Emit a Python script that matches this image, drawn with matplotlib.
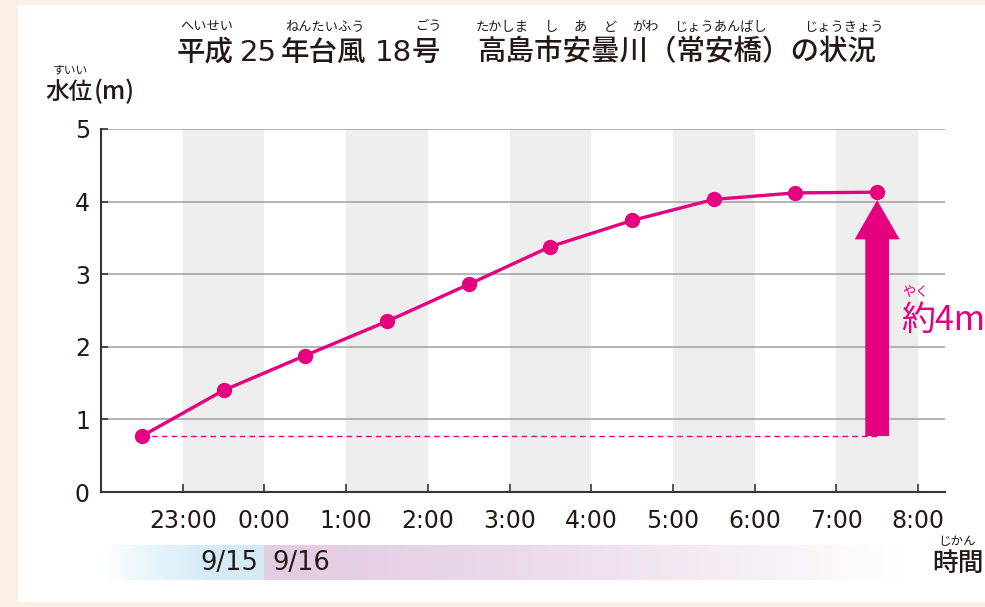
import matplotlib.pyplot as plt
import numpy as np
from matplotlib.patches import Rectangle

plt.rcParams['font.family'] = ['Noto Sans CJK JP', 'DejaVu Sans']

# hours after 22:00 on 9/15
hours = [0.5, 1.5, 2.5, 3.5, 4.5, 5.5, 6.5, 7.5, 8.5, 9.5]
level = [0.77, 1.40, 1.88, 2.35, 2.86, 3.38, 3.74, 4.03, 4.12, 4.13]
tick_pos = [1, 2, 3, 4, 5, 6, 7, 8, 9, 10]
tick_labels = ['23:00', '0:00', '1:00', '2:00', '3:00', '4:00', '5:00', '6:00', '7:00', '8:00']
shade = [(1, 2), (3, 4), (5, 6), (7, 8), (9, 10)]

MAG = '#e4007f'
INK = '#231815'
W, H = 985, 607

fig = plt.figure(figsize=(9.85, 6.07), dpi=100)
fig.patch.set_facecolor('#fdefe3')
fig.patches.append(Rectangle((18 / W, 5 / H), 1, 1 - 10 / H, transform=fig.transFigure,
                             facecolor='white', edgecolor='none', zorder=-10))


def fx(px):
    return px / W


def fy(py):
    return 1 - py / H


x0, x1, ytop, ybot = 101, 945, 129, 492
ax = fig.add_axes([x0 / W, 1 - ybot / H, (x1 - x0) / W, (ybot - ytop) / H])
ax.set_facecolor('none')
xmax = (x1 - x0) / 81.7
ax.set_xlim(0, xmax)
ax.set_ylim(0, 5)

for a, b in shade:
    ax.axvspan(a, b, color='#eeeeee', lw=0, zorder=0)
for y in [1, 2, 3, 4, 5]:
    ax.axhline(y, color='#a0a0a0', lw=1.1, zorder=1)

ax.plot([hours[0], hours[-1]], [level[0], level[0]], color=MAG, lw=1, ls=(0, (4, 3)), zorder=2)
ax.plot(hours, level, color=MAG, lw=2.4, marker='o', ms=10, zorder=4)

ax.arrow(hours[-1], level[0], 0, 4.02 - level[0], width=0.29, head_width=0.55,
         head_length=0.54, length_includes_head=True, color=MAG, lw=0, zorder=3)

for s in ['top', 'right']:
    ax.spines[s].set_visible(False)
for s in ['left', 'bottom']:
    ax.spines[s].set_color('#3a3330')
    ax.spines[s].set_linewidth(1.5)

ax.set_xticks(tick_pos)
ax.set_xticklabels(tick_labels)
ax.set_yticks([0, 1, 2, 3, 4, 5])
ax.tick_params(axis='both', direction='in', color='#3a3330', width=1.2, labelsize=17,
               labelcolor=INK)
ax.tick_params(axis='x', length=6, pad=12)
ax.tick_params(axis='y', length=5, pad=8)
for lab in ax.get_xticklabels() + ax.get_yticklabels():
    lab.set_family(['DejaVu Sans'])

# title pieces + ruby
title_parts = [('平成', 177, 'left'), ('25', 258, 'center'), ('年台風', 281, 'left'),
               ('18', 393, 'center'), ('号', 412, 'left'),
               ('高島市安曇川（常安橋）の状況', 477, 'left')]
for t, px, ha in title_parts:
    if t.isdigit():
        fig.text(fx(px), fy(53), t, fontsize=21, family=['DejaVu Sans'], color=INK,
                 va='center', ha=ha)
    else:
        fig.text(fx(px), fy(52), t, fontsize=20.5, fontweight='medium', color=INK,
                 va='center', ha=ha)
ruby = [('へいせい', 207), ('ねんたいふう', 325), ('ごう', 429), ('たかしま', 502), ('し', 552),
        ('あ', 580), ('ど', 610), ('がわ', 645), ('じょうあんばし', 720), ('じょうきょう', 844)]
for t, cx in ruby:
    fig.text(fx(cx), fy(27), t, fontsize=9.5, color=INK, ha='center', va='center')

# y label
fig.text(fx(45), fy(92), '水位', fontsize=17, fontweight='medium', color=INK,
         ha='left', va='center')
fig.text(fx(94), fy(92), '(m)', fontsize=18, fontweight='medium', color=INK,
         ha='left', va='center')
fig.text(fx(70), fy(70), 'すいい', fontsize=8.5, color=INK, ha='center', va='center')

# about 4m
fig.text(fx(901), fy(320), '約4m', fontsize=24.5, color=MAG, ha='left', va='center')
fig.text(fx(915), fy(292), 'やく', fontsize=9.5, color=MAG, ha='center', va='center')

# date band
bx = fig.add_axes([x0 / W, 1 - 580 / H, (x1 - x0) / W, 35 / H])
bx.axis('off')
grad = np.linspace(0, 1, 256).reshape(1, -1)
c_blue = np.array([0.835, 0.925, 0.97])
c_purp = np.array([0.895, 0.80, 0.89])
white = np.array([1.0, 1.0, 1.0])
blue_img = white + (c_blue - white) * np.clip(grad * 1.6, 0, 1)[..., None] ** 0.8
purp_img = c_purp + (white - c_purp) * grad[..., None] ** 1.4
bx.imshow(blue_img, extent=[0.05, 2, 0, 1], aspect='auto')
bx.imshow(purp_img, extent=[2, 9.8, 0, 1], aspect='auto')
bx.set_xlim(0, xmax)
bx.set_ylim(0, 1)
bx.text(1.92, 0.5, '9/15', fontsize=18.5, family=['DejaVu Sans'], color=INK, ha='right', va='center')
bx.text(2.1, 0.5, '9/16', fontsize=18.5, family=['DejaVu Sans'], color=INK, ha='left', va='center')

fig.text(fx(958), fy(563), '時間', fontsize=18.5, fontweight='medium', color=INK,
         ha='center', va='center')
fig.text(fx(957), fy(542), 'じかん', fontsize=9, color=INK, ha='center', va='center')

fig.savefig('out.png', dpi=100)
